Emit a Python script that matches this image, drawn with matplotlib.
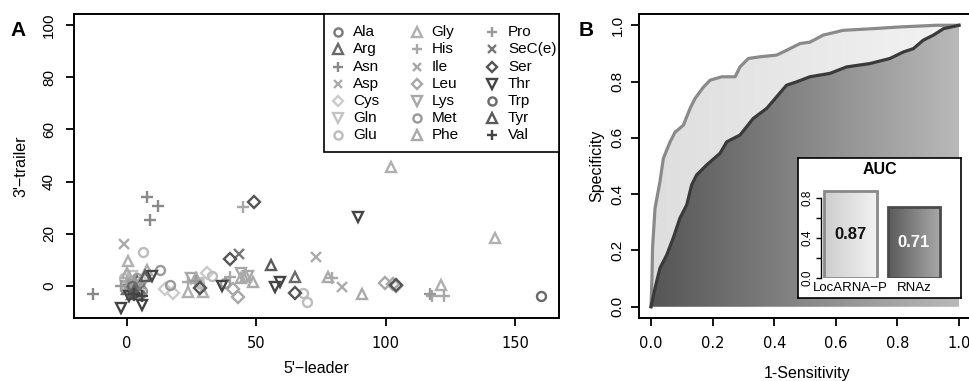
import numpy as np
import matplotlib.pyplot as plt
from matplotlib.colors import LinearSegmentedColormap
from matplotlib.patches import Polygon, Rectangle

plt.rcParams['font.family'] = ['Liberation Sans', 'DejaVu Sans']

# ---------------- panel A data ----------------
aa_names = ['Ala', 'Arg', 'Asn', 'Asp', 'Cys', 'Gln', 'Glu', 'Gly', 'His', 'Ile', 'Leu',
            'Lys', 'Met', 'Phe', 'Pro', 'SeC(e)', 'Ser', 'Thr', 'Trp', 'Tyr', 'Val']
aa_colors = ['#7a7a7a', '#6a6a6a', '#8a8a8a', '#ababab', '#cccccc', '#c4c4c4', '#bdbdbd',
             '#b0b0b0', '#a8a8a8', '#a8a8a8', '#a8a8a8', '#a8a8a8', '#9a9a9a', '#aaaaaa',
             '#9a9a9a', '#777777', '#555555', '#444444', '#6a6a6a', '#5a5a5a', '#444444']

# 5'-leader length per amino acid
leader = [
    [1, 3, 0, 4, 2, 5, 1.5, 3.5],
    [1, 3, 65, 2, 5, 0, 4],
    [8, 12.2, 9, -13.1, 1, 3],
    [-1, 73.1, 83.2, 2],
    [18, 30.9, 6, 4, 15],
    [2, 5, 28, 0],
    [6.2, 69.5, 68.2, 33, 3, -1, 28],
    [102, 142.2, 23.8, 29.6, 0.6, 121.4],
    [44.8, 117.8, 122.6, 23.8, 39.9, 79.2, 0],
    [1, 3, 4],
    [99.7, 104.2, 103, 43.1, 1, 41],
    [44, 47, 2, 25],
    [12.9, 16.7, 1, 4, 38, 2, 6],
    [91, 7.7, 44, 48.9, 77.8, 0, 27, 46],
    [27, 117, -2, 5],
    [43.4, 2, 5],
    [49.2, 39.9, 65.2, 28.3, 104, 3],
    [89.2, -2.2, 5.8, 9.7, 57.3, 37, 59.2, 1],
    [160, 2],
    [55.7, 7, 3],
    [3, 6],
]
# 3'-trailer length per amino acid
trailer = [
    [1, 2, 0, -2, -1, -3, -0.5, 0.5],
    [2, 0, 3.6, -3, 1, -1, 2],
    [34.2, 30.7, 25.3, -3, 1, -1],
    [16, 11, -0.3, 3],
    [-2.8, 4.9, 2, -1, -1],
    [4, 0, 1, -2],
    [13.1, -6, -2.8, 3.8, 1, 3, 1],
    [45.5, 18.3, -2.2, -2.2, 9.7, 0.4],
    [30.1, -3.7, -3.7, 1.6, 3.6, 3, 2],
    [0, -3, 1],
    [1.3, 0, 0.8, -4.1, -2, -1],
    [5, 4, 0, 3],
    [6.1, 0.4, -1, 3, 1, 1.5, -2],
    [-3, 6.1, 3, 1.6, 3.6, 5, 3, 4],
    [2, -3, 0, 1],
    [12.3, -2, -1],
    [32.1, 10.2, -2.8, -0.9, 0.5, -3],
    [26.5, -8.5, -7.3, 3.8, -0.3, 0, 1.6, -4],
    [-3.8, 0],
    [8, 4, -2],
    [-3, -4],
]

# ---------------- panel B data ----------------
loc_x = [0, 0.003, 0.005, 0.013, 0.029, 0.040, 0.062, 0.078, 0.105, 0.127, 0.143, 0.17,
         0.192, 0.23, 0.273, 0.289, 0.316, 0.354, 0.408, 0.44, 0.484, 0.516, 0.559,
         0.624, 0.722, 0.808, 0.928, 1.0]
loc_y = [0, 0.10, 0.21, 0.35, 0.444, 0.527, 0.586, 0.62, 0.645, 0.705, 0.74, 0.78,
         0.805, 0.817, 0.817, 0.852, 0.882, 0.888, 0.894, 0.911, 0.935, 0.94, 0.965,
         0.982, 0.988, 0.994, 1.0, 1.0]
rnaz_x = [0, 0.013, 0.029, 0.051, 0.072, 0.094, 0.116, 0.132, 0.148, 0.181, 0.224, 0.246,
          0.289, 0.332, 0.376, 0.408, 0.44, 0.473, 0.516, 0.581, 0.635, 0.711, 0.776,
          0.819, 0.852, 0.884, 0.917, 0.95, 1.0]
rnaz_y = [0, 0.066, 0.137, 0.184, 0.244, 0.315, 0.362, 0.433, 0.468, 0.504, 0.545, 0.586,
          0.61, 0.669, 0.705, 0.746, 0.787, 0.799, 0.817, 0.829, 0.852, 0.864, 0.882,
          0.905, 0.917, 0.947, 0.965, 0.988, 1.0]
auc_names = ['LocARNA\u2212P', 'RNAz']
auc_vals = [0.87, 0.71]

markers = ['o', '^', '+', 'x', 'D', 'v']
msizes = {'o': 6.5, '^': 7.5, '+': 8, 'x': 7, 'D': 6, 'v': 7.5}

W, H = 969, 381
fig = plt.figure(figsize=(W / 100, H / 100), dpi=100)

def fbox(l, t, r, b):
    # pixel box -> figure fraction rectangle
    return [l / W, 1 - b / H, (r - l) / W, (b - t) / H]

# ================= Panel A =================
ax = fig.add_axes(fbox(74, 14, 559, 318))
for i, name in enumerate(aa_names):
    m = markers[i % 6]
    ax.plot(leader[i], trailer[i], ls='none', marker=m, ms=msizes[m], mfc='none',
            mec=aa_colors[i], mew=1.7)
ax.set_xlim(-20.3, 167)
ax.set_ylim(-12.3, 104.3)
ax.set_xticks([0, 50, 100, 150])
ax.set_yticks([0, 20, 40, 60, 80, 100])
for lab in ax.get_xticklabels():
    lab.set_fontfamily('DejaVu Sans')
ax.tick_params(axis='x', length=6, width=1.3, pad=7, labelsize=10.5)
ax.tick_params(axis='y', length=6, width=1.3, pad=7, labelsize=11)
plt.setp(ax.get_yticklabels(), rotation=90, va='center')
for s in ax.spines.values():
    s.set_linewidth(1.4)
ax.set_ylabel("3'\u2212trailer", fontsize=11.5)
ax.yaxis.set_label_coords(-0.093, 0.5)
ax.set_xlabel("5'\u2212leader", fontsize=11.5)
ax.xaxis.set_label_coords(0.499, -0.141)

# legend box drawn by hand (R style)
ax.add_patch(Rectangle((0.5155, 0.546), 0.4845, 0.454, transform=ax.transAxes,
                       facecolor='white', edgecolor='black', lw=1.2, zorder=5))
col_mk = [0.545, 0.7066, 0.8612]
col_tx = [0.5759, 0.7375, 0.8948]
for i, name in enumerate(aa_names):
    c, r = i // 7, i % 7
    yy = 0.94 - r * 0.0566
    m = markers[i % 6]
    ax.plot([col_mk[c]], [yy], transform=ax.transAxes, marker=m, ms=msizes[m] * 0.9,
            mfc='none', mec=aa_colors[i], mew=1.7, clip_on=False, zorder=6)
    ax.text(col_tx[c], yy, name, transform=ax.transAxes, fontsize=11,
            va='center', ha='left', zorder=6)

fig.text(18 / W, 1 - 30 / H, 'A', fontsize=15, fontweight='bold', ha='center', va='center')

# ================= Panel B =================
bx = fig.add_axes(fbox(638.7, 14, 971.3, 318))

def grad_fill(axis, xs, ys, c0, c1, z):
    pts = np.column_stack([np.r_[xs, 1.0, 0.0], np.r_[ys, 0.0, 0.0]])
    poly = Polygon(pts, closed=True, facecolor='none', edgecolor='none')
    axis.add_patch(poly)
    cmap = LinearSegmentedColormap.from_list('g', [c0, c1])
    im = axis.imshow(np.linspace(0, 1, 256).reshape(1, -1), cmap=cmap, extent=[0, 1, 0, 1],
                     aspect='auto', origin='lower', zorder=z, interpolation='bilinear')
    im.set_clip_path(poly)

grad_fill(bx, loc_x, loc_y, '#dedede', '#f3f3f3', 1)
grad_fill(bx, rnaz_x, rnaz_y, '#555555', '#b9b9b9', 2)
bx.plot(loc_x, loc_y, color='#8a8a8a', lw=2.3, zorder=3, solid_joinstyle='round')
bx.plot(rnaz_x, rnaz_y, color='#3a3a3a', lw=2.3, zorder=4, solid_joinstyle='round')
bx.set_xlim(-0.04, 1.04)
bx.set_ylim(-0.04, 1.04)
bx.set_xticks([0, 0.2, 0.4, 0.6, 0.8, 1.0])
bx.set_xticklabels(['0.0', '0.2', '0.4', '0.6', '0.8', '1.0'], fontfamily='DejaVu Sans')
bx.set_yticks([0, 0.2, 0.4, 0.6, 0.8, 1.0])
bx.set_yticklabels(['0.0', '0.2', '0.4', '0.6', '0.8', '1.0'])
bx.tick_params(axis='x', length=6, width=1.3, pad=7, labelsize=10.5)
bx.tick_params(axis='y', length=6, width=1.3, pad=4, labelsize=11)
plt.setp(bx.get_yticklabels(), rotation=90, va='center')
for s in bx.spines.values():
    s.set_linewidth(1.4)
bx.set_ylabel('Specificity', fontsize=11.5)
bx.yaxis.set_label_coords(-0.104, 0.5)
bx.set_xlabel('1-Sensitivity', fontsize=11.5)
bx.xaxis.set_label_coords(0.506, -0.158)

fig.text(586 / W, 1 - 30 / H, 'B', fontsize=15, fontweight='bold', ha='center', va='center')

# inset box with AUC bars
box = fig.add_axes(fbox(797.7, 157.7, 961, 297.7))
box.set_xticks([])
box.set_yticks([])
for s in box.spines.values():
    s.set_linewidth(1.2)
box.set_zorder(5)
fig.text(880 / W, 1 - 170 / H, 'AUC', fontsize=11.5, fontweight='bold', ha='center', va='center',
         zorder=10)

ins = fig.add_axes(fbox(820.7, 187.7, 950, 277.7))
ins.set_zorder(6)
ins.patch.set_alpha(0)
bar_pos = [0.7, 1.9]
bar_grads = [('#cdcdcd', '#f2f2f2'), ('#5a5a5a', '#a9a9a9')]
bar_edges = ['#8a8a8a', '#4a4a4a']
txt_cols = ['#111111', 'white']
for k in range(2):
    cmap = LinearSegmentedColormap.from_list('b', list(bar_grads[k]))
    ins.imshow(np.linspace(0, 1, 64).reshape(1, -1), cmap=cmap, aspect='auto',
               extent=[bar_pos[k] - 0.5, bar_pos[k] + 0.5, 0, auc_vals[k]], zorder=1)
ins.bar(bar_pos, auc_vals, width=1.0, facecolor='none', edgecolor=bar_edges, lw=2.0, zorder=2)
for k in range(2):
    ins.text(bar_pos[k], auc_vals[k] / 2, '%.2f' % auc_vals[k], ha='center', va='center',
             fontsize=12, fontweight='bold', color=txt_cols[k], zorder=3)
ins.set_xlim(0.138, 2.58)
ins.set_ylim(0, 0.9)
ins.set_xticks(bar_pos)
ins.set_xticklabels(auc_names, fontsize=9.5)
ins.tick_params(axis='x', length=0, pad=3)
ins.set_yticks([0, 0.2, 0.4, 0.6, 0.8])
ins.set_yticklabels(['0.0', '', '0.4', '', '0.8'], fontsize=8.5)
plt.setp(ins.get_yticklabels(), rotation=90, va='center')
ins.tick_params(axis='y', length=3.5, width=1.0, pad=1.5)
for side in ['top', 'right', 'bottom']:
    ins.spines[side].set_visible(False)
ins.spines['left'].set_bounds(0, 0.8)
ins.spines['left'].set_linewidth(1.0)

fig.savefig('out.png', dpi=100)
